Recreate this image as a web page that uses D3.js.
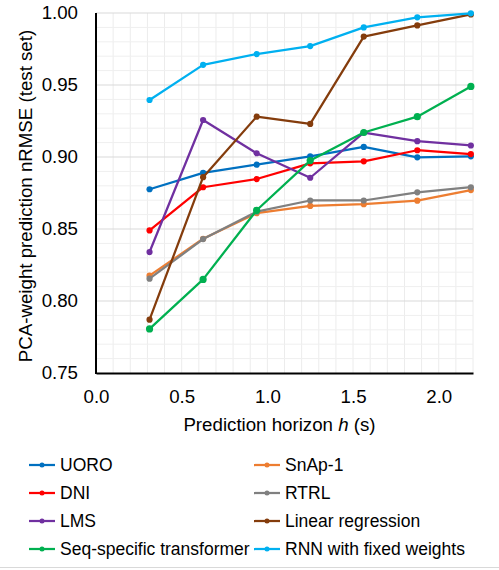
<!DOCTYPE html>
<html><head><meta charset="utf-8">
<script src="https://cdn.jsdelivr.net/npm/d3@7"></script>
<style>body{margin:0;background:#fff}svg{display:block;font-family:"Liberation Sans",Arial,sans-serif}</style>
</head><body><svg id="c" width="499" height="570"></svg>
<script>
const horizons = [0.3125, 0.625, 0.9375, 1.25, 1.5625, 1.875, 2.1875];
const seriesNames = ["UORO","SnAp-1","DNI","RTRL","LMS","Linear regression","Seq-specific transformer","RNN with fixed weights"];
const seriesColors = ["#0070c0","#ed7d31","#ff0000","#808080","#7030a0","#843c0c","#00b050","#00b0f0"];
const uoro   = [0.8776,0.889,0.8947,0.9005,0.907,0.8998,0.9005];
const snap1  = [0.8176,0.8432,0.861,0.866,0.8672,0.8697,0.877];
const dni    = [0.849,0.879,0.8847,0.8956,0.897,0.9047,0.902];
const rtrl   = [0.8155,0.843,0.862,0.8698,0.8698,0.8755,0.879];
const lms    = [0.834,0.9257,0.9026,0.8856,0.917,0.911,0.908];
const linreg = [0.787,0.886,0.928,0.923,0.9836,0.9914,0.999];
const seqtr  = [0.7806,0.815,0.863,0.8975,0.917,0.928,0.949];
const rnnfix = [0.9396,0.964,0.9715,0.977,0.990,0.997,0.9998];
const seriesValues = [uoro,snap1,dni,rtrl,lms,linreg,seqtr,rnnfix];
const xTicks = [0.0,0.5,1.0,1.5,2.0];
const yTicks = [0.75,0.80,0.85,0.90,0.95,1.00];

const svg = d3.select("#c");
const L=96,R=473,T=13,B=373;
const x = d3.scaleLinear().domain([0,2.2]).range([L,R]);
const y = d3.scaleLinear().domain([0.75,1.0]).range([B,T]);

// grid
const g = svg.append("g");
g.selectAll("line.vx").data(d3.range(1,23).map(i=>i/10)).join("line")
 .attr("x1",d=>x(d)).attr("x2",d=>x(d)).attr("y1",T).attr("y2",B)
 .attr("stroke","#ececec").attr("stroke-width",1);
g.selectAll("line.hy").data(d3.range(76,101).map(i=>i/100)).join("line")
 .attr("x1",L).attr("x2",R).attr("y1",d=>y(d)).attr("y2",d=>y(d))
 .attr("stroke",d=>Math.abs(d*20-Math.round(d*20))<1e-6?"#d9d9d9":"#efefef").attr("stroke-width",1);

// axes
const xa = svg.append("g").attr("transform",`translate(0,${B})`)
 .call(d3.axisBottom(x).tickValues(xTicks).tickFormat(d3.format(".1f")).tickSize(0).tickPadding(17));
xa.select(".domain").attr("stroke","#000").attr("stroke-width",2);
xa.selectAll("text").attr("font-size","18.7px").attr("fill","#000").attr("font-family","Liberation Sans, Arial, sans-serif");
const ya = svg.append("g").attr("transform",`translate(${L},0)`)
 .call(d3.axisLeft(y).tickValues(yTicks).tickFormat(d3.format(".2f")).tickSize(0).tickPadding(18));
ya.select(".domain").remove();
ya.selectAll("text").attr("font-size","18.7px").attr("fill","#000").attr("font-family","Liberation Sans, Arial, sans-serif");
svg.append("line").attr("x1",L).attr("x2",L).attr("y1",T).attr("y2",B+1).attr("stroke","#000").attr("stroke-width",2);

// series
const line = d3.line().x((d,i)=>x(horizons[i])).y(d=>y(d));
seriesValues.forEach((vals,k)=>{
  svg.append("path").datum(vals).attr("d",line).attr("fill","none")
   .attr("stroke",seriesColors[k]).attr("stroke-width",2.25).attr("stroke-linejoin","round");
  svg.append("g").selectAll("circle").data(vals).join("circle")
   .attr("cx",(d,i)=>x(horizons[i])).attr("cy",d=>y(d)).attr("r",k===6?3.6:3.1)
   .attr("fill",seriesColors[k]);
});

// titles
svg.append("text").attr("x",(L+R)/2-5).attr("y",431).attr("text-anchor","middle")
 .attr("font-size","18.7px").html('Prediction horizon <tspan font-style="italic">h</tspan> (s)');
svg.append("text").attr("transform",`translate(32,${(T+B)/2+3}) rotate(-90)`).attr("text-anchor","middle")
 .attr("font-size","18.7px").text("PCA-weight prediction nRMSE (test set)");

// legend
seriesNames.forEach((name,k)=>{
  const col=k%2,row=Math.floor(k/2);
  const lx = col===0?29:254, ly = 465+row*28;
  svg.append("line").attr("x1",lx).attr("x2",lx+26).attr("y1",ly).attr("y2",ly)
   .attr("stroke",seriesColors[k]).attr("stroke-width",2.25);
  svg.append("circle").attr("cx",lx+13).attr("cy",ly).attr("r",2.5).attr("fill",seriesColors[k]);
  svg.append("text").attr("x",lx+31).attr("y",ly).attr("dy","0.35em").attr("font-size","17.5px").text(name);
});
svg.append("line").attr("x1",0).attr("x2",499).attr("y1",567.5).attr("y2",567.5).attr("stroke","#d9d9d9").attr("stroke-width",1);
</script></body></html>
